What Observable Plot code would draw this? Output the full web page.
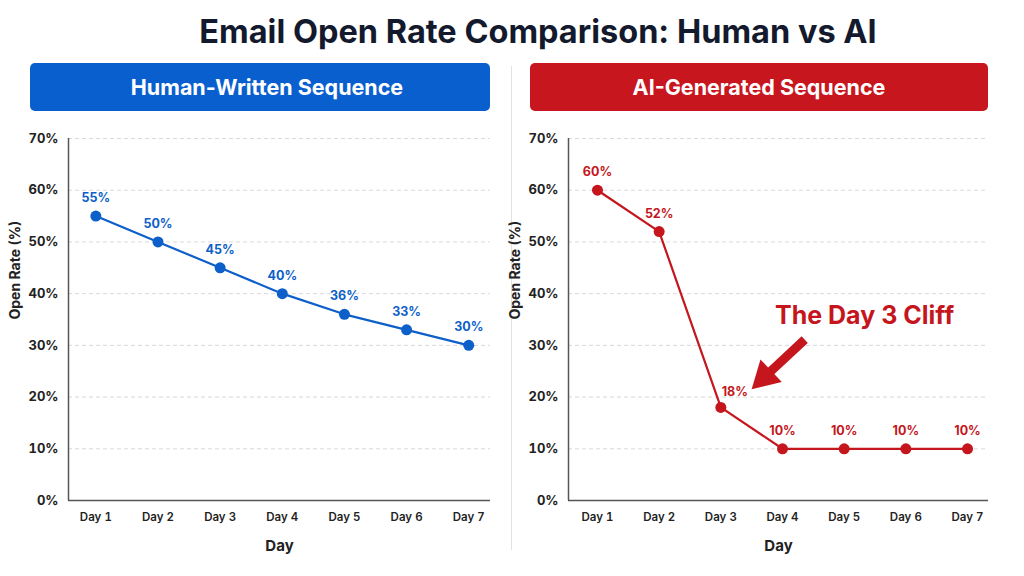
<!DOCTYPE html>
<html>
<head>
<meta charset="utf-8">
<script src="https://cdn.jsdelivr.net/npm/d3@7"></script>
<script src="https://cdn.jsdelivr.net/npm/@observablehq/plot@0.6"></script>
<style>
  html, body { margin: 0; padding: 0; background: #fff; }
  #root { position: relative; width: 1024px; height: 576px; overflow: hidden; font-family: Inter, Roboto, "Noto Sans", sans-serif; }
  .title { position: absolute; left: 26px; top: 12px; width: 1024px; text-align: center; font-size: 32.5px; font-weight: 700; color: #141a2e; }
  .banner { position: absolute; top: 63px; height: 48px; border-radius: 5px; color: #fff; font-size: 21.5px; font-weight: 700; display: flex; align-items: center; justify-content: center; box-sizing: border-box; }
  .divider { position: absolute; left: 511px; top: 66px; width: 1px; height: 484px; background: #e2e2e2; }
  .chart { position: absolute; top: 120px; }
</style>
</head>
<body>
<div id="root">
  <div class="title">Email Open Rate Comparison: Human vs AI</div>
  <div class="banner" style="left:30px;width:460px;background:#0a5fcf;padding-left:14px;">Human-Written Sequence</div>
  <div class="banner" style="left:530px;width:458px;background:#c8161e;">AI-Generated Sequence</div>
  <div class="divider"></div>
  <div class="chart" id="left" style="left:0px;"></div>
  <div class="chart" id="right" style="left:510px;"></div>
</div>
<script>
const days = ["Day 1", "Day 2", "Day 3", "Day 4", "Day 5", "Day 6", "Day 7"];
const humanRates = [55, 50, 45, 40, 36, 33, 30];
const aiRates = [60, 52, 18, 10, 10, 10, 10];
const yTicks = [0, 10, 20, 30, 40, 50, 60, 70];
const annotationText = ["The Day 3 Cliff"];
const annotationPos = [{x: 5.33, y: 35.6}];
const arrowStart = [{x: 4.36, y: 31.1}];
const arrowHead = [{x: 3.71, y: 23.9}];

const BLUE = "#0d5fc9";
const RED = "#c4161c";

function chart(values, color, opts) {
  const data = values.map((v, i) => ({day: i + 1, rate: v, label: v + "%", shifted: (opts.shifted || []).includes(i)}));
  const marks = [
    Plot.ruleY(yTicks.filter(t => t > 0), {stroke: "#d9d9d9", strokeDasharray: "4,3", strokeWidth: 1}),
    Plot.axisY(yTicks, {tickSize: 0, tickPadding: 10, tickFormat: d => d + "%", fontSize: 13, fontWeight: 700, fill: "#222", label: null}),
    Plot.axisX(days.map((d, i) => i + 1), {tickSize: 0, tickPadding: 12, tickFormat: d => days[d - 1], fontSize: 11.5, fontWeight: 600, fill: "#222", label: null}),
    Plot.ruleY([0], {stroke: "#555", strokeWidth: 1.5}),
    Plot.ruleX([opts.xDomain[0]], {stroke: "#555", strokeWidth: 1.5}),
    Plot.line(data, {x: "day", y: "rate", stroke: color, strokeWidth: 2.2}),
    Plot.dot(data, {x: "day", y: "rate", r: 5.5, fill: color}),
    Plot.text(data.filter(d => !d.shifted), {
      x: "day", y: "rate", text: "label", fill: color, fontSize: 12.5, fontWeight: 700, dy: -18
    }),
    Plot.text(data.filter(d => d.shifted), {
      x: "day", y: "rate", text: "label", fill: color, fontSize: 12.5, fontWeight: 700, dx: 14, dy: -15
    }),
    Plot.text(["Day"], {frameAnchor: "bottom", dy: 50, fontSize: 15, fontWeight: 700, fill: "#222"}),
    Plot.text(["Open Rate (%)"], {frameAnchor: "left", dx: opts.yLabelDx, rotate: -90, fontSize: 14, fontWeight: 700, fill: "#222"})
  ];
  if (opts.extra) marks.push(...opts.extra);
  return Plot.plot({
    width: opts.width,
    height: 440,
    marginLeft: opts.marginLeft,
    marginRight: opts.marginRight,
    marginTop: 18,
    marginBottom: 60,
    style: {fontFamily: "Inter, Roboto, sans-serif", overflow: "visible", background: "transparent"},
    x: {type: "linear", domain: opts.xDomain, axis: null},
    y: {domain: [0, 70], axis: null},
    marks
  });
}

document.getElementById("left").append(chart(humanRates, BLUE, {
  width: 510, marginLeft: 68, marginRight: 20, xDomain: [0.56, 7.35], yLabelDx: -53
}));

const rightExtra = [
  Plot.link(arrowStart.map((s, i) => ({x1: s.x, y1: s.y, x2: arrowHead[i].x, y2: arrowHead[i].y})), {
    x1: "x1", y1: "y1", x2: "x2", y2: "y2", stroke: RED, strokeWidth: 9
  }),
  Plot.dot(arrowHead, {x: "x", y: "y", symbol: "triangle", r: 11.5, fill: RED, rotate: 226.6}),
  Plot.text(annotationPos, {x: "x", y: "y", text: () => annotationText[0], fill: RED, fontSize: 25, fontWeight: 700})
];

document.getElementById("right").append(chart(aiRates, RED, {
  width: 514, marginLeft: 58, marginRight: 36, xDomain: [0.53, 7.34], yLabelDx: -53,
  shifted: [2], extra: rightExtra
}));
</script>
</body>
</html>
